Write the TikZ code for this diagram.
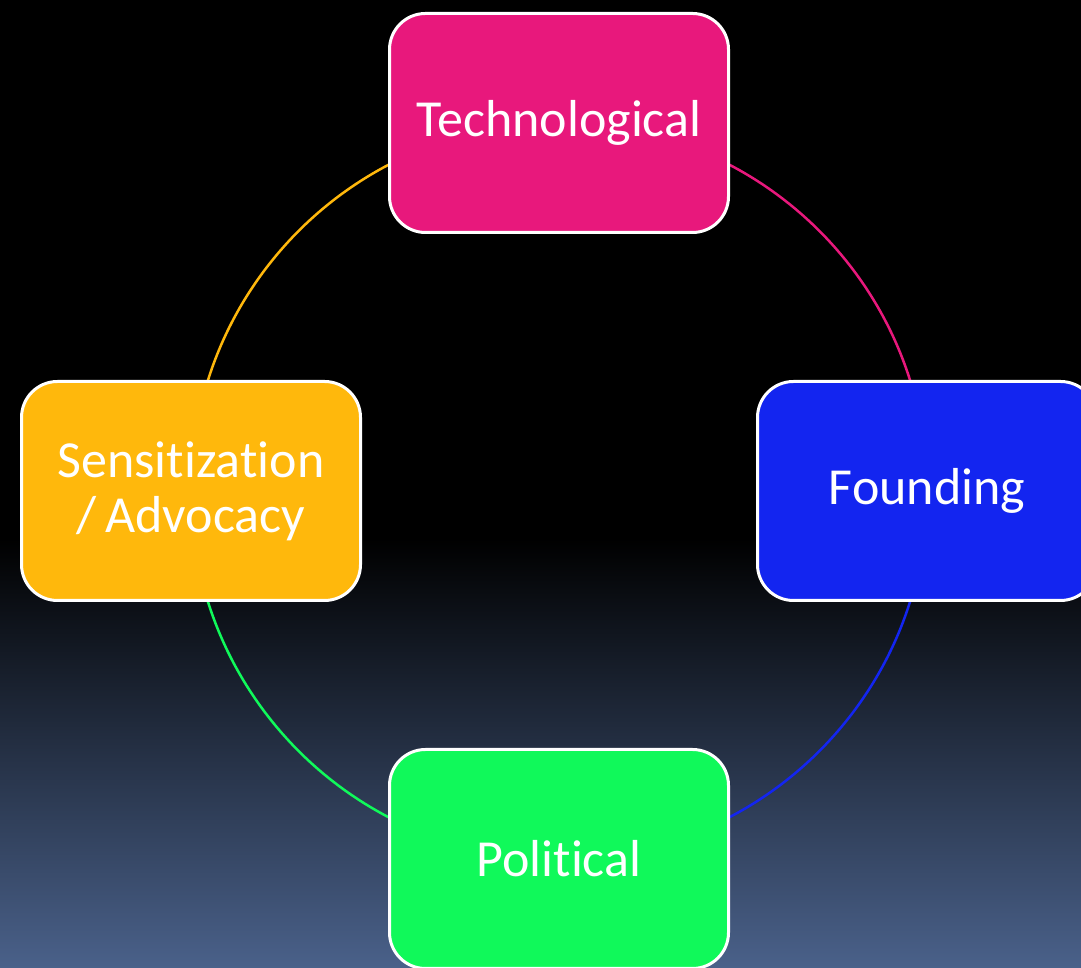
\documentclass[tikz,border=0pt]{standalone}
\usepackage{fontspec}
\setmainfont[Ligatures=NoCommon]{Carlito}

\definecolor{techcol}{RGB}{232,24,124}
\definecolor{foundcol}{RGB}{19,37,240}
\definecolor{senscol}{RGB}{255,184,12}
\definecolor{polcol}{RGB}{16,249,90}
\definecolor{bgblue}{RGB}{74,97,138}

\pgfdeclarelayer{back}
\pgfdeclarelayer{arcs}
\pgfsetlayers{back,arcs,main}

\begin{document}
\begin{tikzpicture}
[x=1pt,y=1pt,
 every node/.style={draw=white,line width=3pt,rounded corners=36pt,minimum width=339pt,minimum height=219pt,
                    inner sep=0pt,outer sep=0pt,text=white,align=center,font=\fontsize{52}{55}\selectfont},
 tech/.style={fill=techcol},
 found/.style={fill=foundcol},
 sens/.style={fill=senscol},
 pol/.style={fill=polcol},
 ring/.style={line width=2.5pt}]
\useasboundingbox (0,0) rectangle (1081,968);
\clip (0,0) rectangle (1081,968);

\node[tech]  (t) at (559,845) {Technological};
\node[found] (f) at (927,477) {Founding};
\node[pol]   (p) at (559,109) {Political};
\node[sens]  (s) at (191,477) {Sensitization\\/\,Advocacy};

% ring between the boxes
\begin{pgfonlayer}{arcs}
\draw[ring,techcol]  (t.center) arc[start angle=90,end angle=0,radius=368pt];
\draw[ring,foundcol] (f.center) arc[start angle=0,end angle=-90,radius=368pt];
\draw[ring,polcol]   (p.center) arc[start angle=-90,end angle=-180,radius=368pt];
\draw[ring,senscol]  (s.center) arc[start angle=180,end angle=90,radius=368pt];
\end{pgfonlayer}

% slide background
\begin{pgfonlayer}{back}
\fill[black] (0,0) rectangle (1081,968);
\shade[top color=black,bottom color=bgblue] (0,0) rectangle (1081,430);
\end{pgfonlayer}
\end{tikzpicture}
\end{document}
